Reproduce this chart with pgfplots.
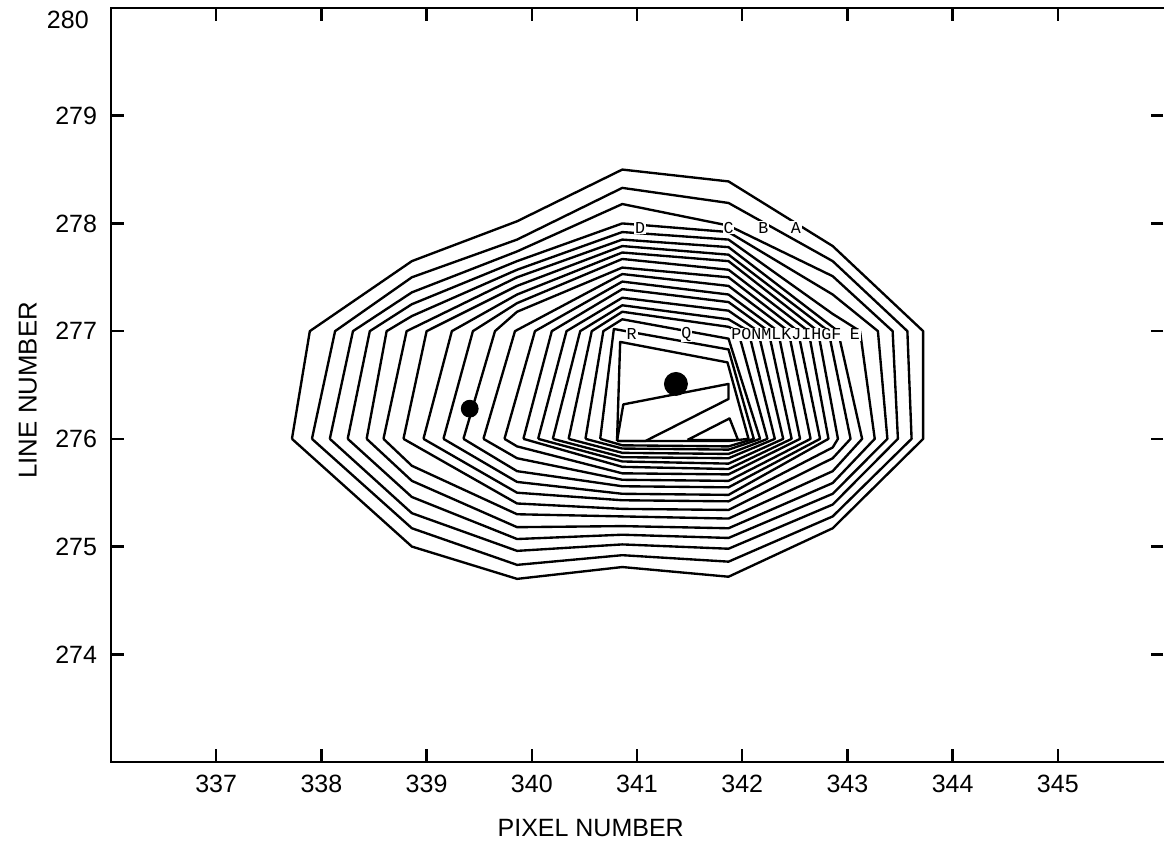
\documentclass[border=0pt]{standalone}
\usepackage{fontspec}
\setmainfont{Liberation Sans}
\newfontfamily\letterfont{Liberation Mono}
\usepackage{pgfplots}
\pgfplotsset{compat=1.18}
\pgfplotsset{contour/.style={black, line width=0.85pt, mark=none, line join=round}}
\begin{document}
\begin{tikzpicture}
\begin{axis}[
  name=ax,
  scale only axis,
  width=378.72pt, height=271.44pt,
  xmin=336, xmax=346, ymin=273, ymax=280,
  xtick={337,338,...,345}, ytick={274,275,...,280},
  yticklabels={274,275,276,277,278,279,{}},
  tick align=inside,
  major tick length=4.5pt,
  tick style={line width=0.9pt, black},
  axis line style={draw=none},
  /pgf/number format/assume math mode=true,
  ticklabel style={font=\fontsize{9}{11}\selectfont},
  xticklabel style={yshift=-1pt},
  yticklabel style={xshift=-1.5pt},
  xlabel={PIXEL NUMBER}, ylabel={LINE NUMBER},
  every axis x label/.style={at={(axis description cs:0.456,-0.0877)}, anchor=center, font=\fontsize{9}{11}\selectfont},
  every axis y label/.style={at={(axis description cs:-0.079,0.493)}, anchor=center, rotate=90, font=\fontsize{9.3}{11}\selectfont},
  clip=false,
]
% A
\addplot[contour] coordinates {(337.72,276.00) (337.89,277.00) (338.86,277.65) (339.86,278.02) (340.86,278.50) (341.87,278.39) (342.86,277.79) (343.72,277.00) (343.72,276.00) (342.86,275.17) (341.87,274.72) (340.86,274.81) (339.86,274.70) (338.86,275.00) (337.72,276.00)};
% B
\addplot[contour] coordinates {(337.91,276.00) (338.13,277.00) (338.86,277.50) (339.86,277.85) (340.86,278.33) (341.87,278.19) (342.86,277.65) (343.57,277.00) (343.61,276.00) (342.86,275.28) (341.87,274.86) (340.86,274.92) (339.86,274.83) (338.86,275.17) (337.91,276.00)};
% C
\addplot[contour] coordinates {(338.08,276.00) (338.30,277.00) (338.86,277.36) (339.86,277.74) (340.86,278.18) (341.87,277.98) (342.86,277.51) (343.43,277.00) (343.48,276.00) (342.86,275.39) (341.87,274.98) (340.86,275.02) (339.86,274.96) (338.86,275.31) (338.08,276.00)};
% D
\addplot[contour] coordinates {(338.25,276.00) (338.46,277.00) (338.86,277.25) (339.86,277.65) (340.86,278.00) (341.87,277.92) (342.86,277.34) (343.29,277.00) (343.38,276.00) (342.86,275.49) (341.87,275.08) (340.86,275.11) (339.86,275.07) (338.86,275.46) (338.25,276.00)};
% E
\addplot[contour] coordinates {(338.43,276.00) (338.62,277.00) (338.86,277.14) (339.86,277.57) (340.86,277.92) (341.87,277.85) (342.86,277.16) (343.12,277.00) (343.26,276.00) (342.86,275.59) (341.87,275.17) (340.86,275.19) (339.86,275.18) (338.86,275.61) (338.43,276.00)};
% F
\addplot[contour] coordinates {(338.59,276.00) (338.81,277.00) (339.86,277.50) (340.86,277.85) (341.87,277.78) (342.91,277.00) (343.14,276.00) (342.86,275.70) (341.87,275.26) (340.86,275.28) (339.86,275.30) (338.86,275.75) (338.59,276.00)};
% G
\addplot[contour] coordinates {(338.78,276.00) (339.00,277.00) (339.86,277.42) (340.86,277.79) (341.87,277.71) (342.82,277.00) (343.03,276.00) (342.86,275.82) (341.87,275.34) (340.86,275.35) (339.86,275.40) (338.78,276.00)};
% H
\addplot[contour] coordinates {(338.97,276.00) (339.24,277.00) (339.86,277.34) (340.86,277.73) (341.87,277.65) (342.72,277.00) (342.91,276.00) (342.86,275.92) (341.87,275.42) (340.86,275.43) (339.86,275.50) (338.97,276.00)};
% I
\addplot[contour] coordinates {(339.16,276.00) (339.44,277.00) (339.86,277.26) (340.86,277.67) (341.87,277.57) (342.63,277.00) (342.82,276.00) (341.87,275.48) (340.86,275.49) (339.86,275.60) (339.16,276.00)};
% J
\addplot[contour] coordinates {(339.35,276.00) (339.65,277.00) (339.86,277.18) (340.86,277.59) (341.87,277.50) (342.53,277.00) (342.74,276.00) (341.87,275.55) (340.86,275.56) (339.86,275.70) (339.35,276.00)};
% K
\addplot[contour] coordinates {(339.54,276.00) (339.84,277.00) (340.86,277.53) (341.87,277.42) (342.44,277.00) (342.65,276.00) (341.87,275.61) (340.86,275.62) (339.86,275.82) (339.54,276.00)};
% L
\addplot[contour] coordinates {(339.74,276.00) (340.03,277.00) (340.86,277.46) (341.87,277.34) (342.34,277.00) (342.55,276.00) (341.87,275.67) (340.86,275.68) (339.86,275.93) (339.74,276.00)};
% M
\addplot[contour] coordinates {(339.92,276.00) (340.19,277.00) (340.86,277.39) (341.87,277.27) (342.25,277.00) (342.47,276.00) (341.87,275.72) (340.86,275.74) (339.92,276.00)};
% N
\addplot[contour] coordinates {(340.06,276.00) (340.33,277.00) (340.86,277.31) (341.87,277.19) (342.15,277.00) (342.39,276.00) (341.87,275.77) (340.86,275.79) (340.06,276.00)};
% O
\addplot[contour] coordinates {(340.20,276.00) (340.46,277.00) (340.86,277.24) (341.87,277.11) (342.06,277.00) (342.31,276.00) (341.87,275.82) (340.86,275.83) (340.20,276.00)};
% P
\addplot[contour] coordinates {(340.35,276.00) (340.57,277.00) (340.86,277.18) (341.87,277.04) (341.96,277.00) (342.24,276.00) (341.87,275.86) (340.86,275.87) (340.35,276.00)};
% Q
\addplot[contour] coordinates {(340.51,276.00) (340.68,277.00) (340.86,277.11) (341.87,276.93) (342.17,276.00) (341.87,275.90) (340.86,275.91) (340.51,276.00)};
% R
\addplot[contour] coordinates {(340.65,276.00) (340.78,277.02) (341.87,276.83) (342.11,276.00) (341.87,275.93) (340.86,275.94) (340.65,276.00)};
% innermost levels
\addplot[contour] coordinates {(340.81,275.98) (340.84,276.90) (341.86,276.71) (342.06,276.00) (341.87,275.98) (340.81,275.98)};
\addplot[contour] coordinates {(340.81,275.98) (340.87,276.32) (341.87,276.51) (341.87,276.37) (341.08,275.98) (340.81,275.98)};
\addplot[contour] coordinates {(341.48,275.99) (341.88,276.19) (341.96,275.99) (341.48,275.99)};
% source positions
\addplot[only marks, mark=*, mark size=4.1pt, black] coordinates {(341.37,276.51)};
\addplot[only marks, mark=*, mark size=3.0pt, black] coordinates {(339.41,276.28)};
% level letters
\begin{scope}[every node/.style={font=\letterfont\fontsize{6}{7}\selectfont, fill=white, inner sep=0.3pt}]
\node at (axis cs:341.03,277.96) {D};
\node at (axis cs:341.87,277.96) {C};
\node at (axis cs:342.20,277.96) {B};
\node at (axis cs:342.51,277.96) {A};
\node at (axis cs:340.95,276.97) {R};
\node at (axis cs:341.47,276.97) {Q};
\node at (axis cs:342.42,276.97) {PONMLKJIHGF};
\node at (axis cs:343.07,276.97) {E};
\end{scope}
% top tick label, set a little below its tick
\node[anchor=east, font=\fontsize{9}{11}\selectfont, xshift=-4.5pt, yshift=-4.3pt] at (rel axis cs:0,1) {280};
\end{axis}
\draw[line width=1pt, line cap=rect] (ax.north east) -- (ax.north west) -- (ax.south west) -- (ax.south east);
\pgfresetboundingbox
\path ([xshift=-39.96pt,yshift=-29.52pt]ax.south west) rectangle ([xshift=0.72pt,yshift=2.88pt]ax.north east);
\end{tikzpicture}
\end{document}
